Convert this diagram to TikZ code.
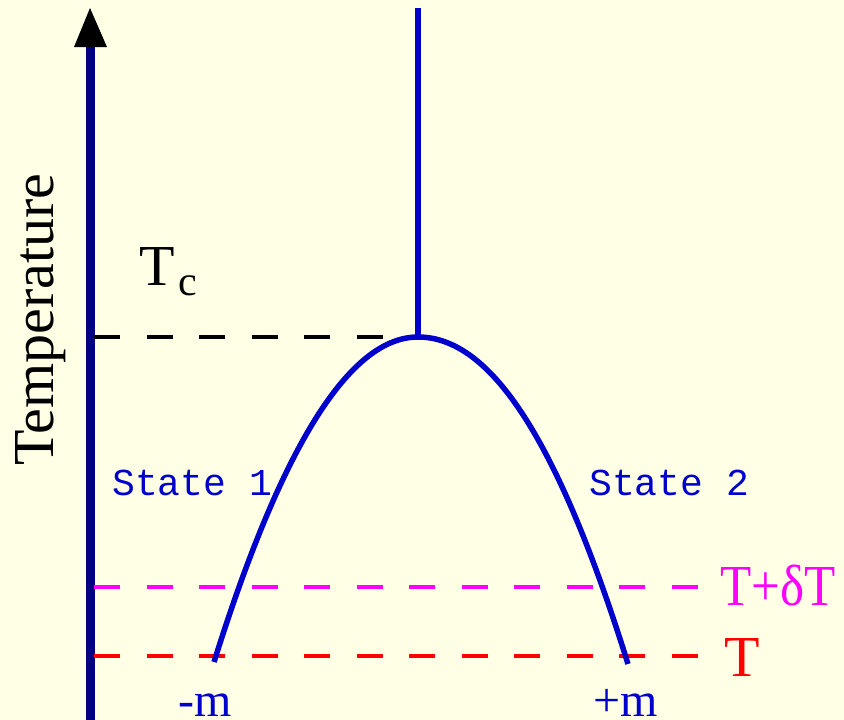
\documentclass[tikz,border=0pt]{standalone}
\usepackage{fontspec}
\setmainfont{Liberation Serif}
\newfontfamily\statefont{Liberation Mono}
\definecolor{bgyellow}{RGB}{255,255,230}
\definecolor{axisblue}{RGB}{0,0,128}
\definecolor{curveblue}{RGB}{0,0,204}
\definecolor{magentaline}{RGB}{255,0,255}
\definecolor{redline}{RGB}{255,0,0}
\begin{document}
\begin{tikzpicture}[x=1pt,y=-1pt,
  axisline/.style={axisblue, line width=9pt},
  curveline/.style={curveblue, line width=5.5pt},
  levelline/.style={line width=3.5pt, dash pattern=on 26pt off 26.5pt},
  bigtext/.style={inner sep=0pt, anchor=base west, font=\fontsize{58}{60}\selectfont},
  statetext/.style={inner sep=0pt, anchor=base west, text=curveblue, font=\statefont\fontsize{38}{40}\selectfont},
  mtext/.style={inner sep=0pt, anchor=base west, text=curveblue, font=\fontsize{48}{50}\selectfont}]
\fill[bgyellow] (0,0) rectangle (844,720);
\useasboundingbox (0,0) rectangle (844,720);

% coordinates
\coordinate (axbot) at (90,720);
\coordinate (axtop) at (90,46);
\coordinate (tip) at (90,8);
\coordinate (tipl) at (74,47);
\coordinate (tipr) at (107,47);
\coordinate (vtop) at (418,8);
\coordinate (apex) at (418,337);
\coordinate (lend) at (214,662);
\coordinate (rend) at (628,664);
\coordinate (tcL) at (94,337);
\coordinate (tcR) at (416,337);
\coordinate (dtL) at (94,587);
\coordinate (dtR) at (698,587);
\coordinate (tL) at (94,656);
\coordinate (tR) at (698,656);

% axis
\draw[axisline] (axbot) -- (axtop);
\fill[black] (tip) -- (tipl) -- (tipr) -- cycle;

% dashed levels
\draw[levelline, black] (tcL) -- (tcR);
\draw[levelline, magentaline] (dtL) -- (dtR);
\draw[levelline, redline] (tL) -- (tR);

% vertical line above Tc
\draw[curveline] (vtop) -- (apex);

% coexistence curve
\draw[curveline] (lend) .. controls (282,445) and (350,337) .. (apex)
                        .. controls (492,337) and (559,443) .. (rend);

% labels
\node[bigtext, rotate=90] (temp) at (53,466) {Temperature};
\node[bigtext] (tc) at (139,285) {T\kern4pt\raisebox{-10pt}{\fontsize{42}{42}\selectfont c}};
\node[statetext] (s1) at (112,495) {State 1};
\node[statetext] (s2) at (589,495) {State 2};
\node[bigtext, text=magentaline, xscale=0.88] (tdt) at (720,605) {T+δT};
\node[bigtext, text=redline] (tlab) at (724,676) {T};
\node[mtext] (mneg) at (178,716) {-m};
\node[mtext] (mpos) at (593,716) {+m};
\end{tikzpicture}
\end{document}
